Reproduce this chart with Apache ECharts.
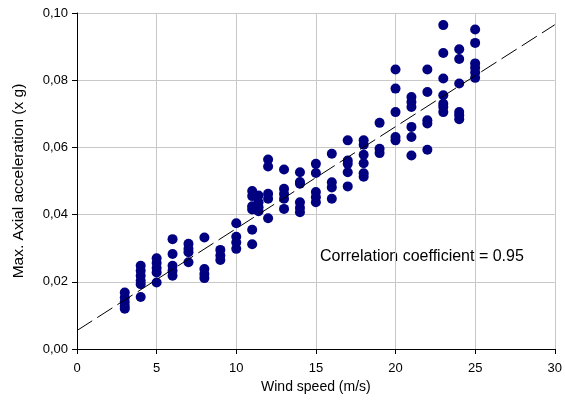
<!DOCTYPE html>
<html>
<head>
<meta charset="utf-8">
<script src="https://cdn.jsdelivr.net/npm/echarts@6/dist/echarts.min.js"></script>
<style>html,body{margin:0;padding:0;background:#fff}#c{width:565px;height:406px}</style>
</head>
<body>
<div id="c"></div>
<script>
var windSpeed = [
  3,3,3,3,3,
  4,4,4,4,4,4,
  5,5,5,5,5,
  6,6,6,6,6,
  7,7,7,7,
  8,8,8,8,
  9,9,9,
  10,10,10,10,
  11,11,11,11,11,11,
  11.4,11.4,11.4,11.4,
  12,12,12,12,12,
  13,13,13,13,13,
  14,14,14,14,14,14,
  15,15,15,15,15,
  16,16,16,16,
  17,17,17,17,17,
  18,18,18,18,18,18,
  19,19,19,
  20,20,20,20,20,
  21,21,21,21,21,21,
  22,22,22,22,22,
  23,23,23,23,23,23,23,
  24,24,24,24,24,24,
  25,25,25,25,25,25
];
var acceleration = [
  0.0168,0.0153,0.0140,0.0128,0.0120,
  0.0248,0.0233,0.0218,0.0203,0.0193,0.0155,
  0.0270,0.0256,0.0241,0.0228,0.0198,
  0.0327,0.0283,0.0248,0.0233,0.0218,
  0.0313,0.0298,0.0288,0.0258,
  0.0332,0.0238,0.0223,0.0211,
  0.0295,0.0278,0.0265,
  0.0374,0.0334,0.0317,0.0298,
  0.0470,0.0455,0.0425,0.0415,0.0355,0.0312,
  0.0457,0.0437,0.0422,0.0410,
  0.0564,0.0543,0.0462,0.0447,0.0389,
  0.0534,0.0477,0.0462,0.0447,0.0417,
  0.0526,0.0497,0.0492,0.0437,0.0420,0.0407,
  0.0551,0.0524,0.0467,0.0452,0.0437,
  0.0581,0.0496,0.0481,0.0447,
  0.0621,0.0561,0.0551,0.0526,0.0484,
  0.0621,0.0608,0.0578,0.0553,0.0523,0.0513,
  0.0673,0.0596,0.0583,
  0.0832,0.0775,0.0705,0.0631,0.0621,
  0.0750,0.0735,0.0720,0.0661,0.0631,0.0576,
  0.0832,0.0765,0.0681,0.0671,0.0593,
  0.0964,0.0881,0.0805,0.0755,0.0730,0.0720,0.0705,
  0.0892,0.0863,0.0790,0.0705,0.0696,0.0684,
  0.0951,0.0911,0.0850,0.0837,0.0823,0.0807
];
var trendX = [0, 30];
var trendY = [0.0055, 0.0965];
var xTicks = [0, 5, 10, 15, 20, 25, 30];
var yTicks = ['0,00','0,02','0,04','0,06','0,08','0,10'];
var annotation = 'Correlation coefficient = 0.95';

var points = windSpeed.map(function(x, i){ return [x, acceleration[i]]; });
var trend = trendX.map(function(x, i){ return [x, trendY[i]]; });

var chart = echarts.init(document.getElementById('c'), null, {renderer:'canvas'});
var font = 'Liberation Sans, Arial, sans-serif';
chart.setOption({
  animation: false,
  backgroundColor: '#fff',
  grid: {left: 77, right: 10, top: 13, bottom: 57, containLabel: false},
  xAxis: {
    type: 'value', min: 0, max: 30, interval: 5,
    name: 'Wind speed (m/s)', nameLocation: 'middle', nameGap: 27,
    nameTextStyle: {fontFamily: font, fontSize: 14, color: '#000'},
    axisLine: {show: true, onZero: false, lineStyle: {color: '#000', width: 1}},
    axisTick: {show: true, length: 5, inside: false, lineStyle: {color: '#000'}},
    axisLabel: {fontFamily: font, fontSize: 13, color: '#000', margin: 13,
      formatter: function(v){ return String(v); }},
    splitLine: {show: true, lineStyle: {color: '#c8c8c8', width: 1}}
  },
  yAxis: {
    type: 'value', min: 0, max: 0.1, interval: 0.02,
    name: 'Max. Axial acceleration (x g)', nameLocation: 'middle', nameGap: 50,
    nameTextStyle: {fontFamily: font, fontSize: 15.5, color: '#000'},
    axisLine: {show: true, lineStyle: {color: '#000', width: 1}},
    axisTick: {show: true, length: 5, inside: false, lineStyle: {color: '#000'}},
    axisLabel: {fontFamily: font, fontSize: 13, color: '#000', margin: 9,
      formatter: function(v){ return yTicks[Math.round(v / 0.02)]; }},
    splitLine: {show: true, lineStyle: {color: '#c8c8c8', width: 1}}
  },
  graphic: [{
    type: 'text', left: 320, top: 249,
    style: {text: annotation, fontFamily: font, fontSize: 16, fill: '#000'}
  }],
  series: [{
    type: 'line', data: trend, symbol: 'none', silent: true, z: 3,
    lineStyle: {color: '#000', width: 1, type: [18, 6]}
  }, {
    type: 'scatter', data: points, symbol: 'circle', symbolSize: 10, z: 2,
    itemStyle: {color: '#000080', opacity: 1}
  }]
});
</script>
</body>
</html>
